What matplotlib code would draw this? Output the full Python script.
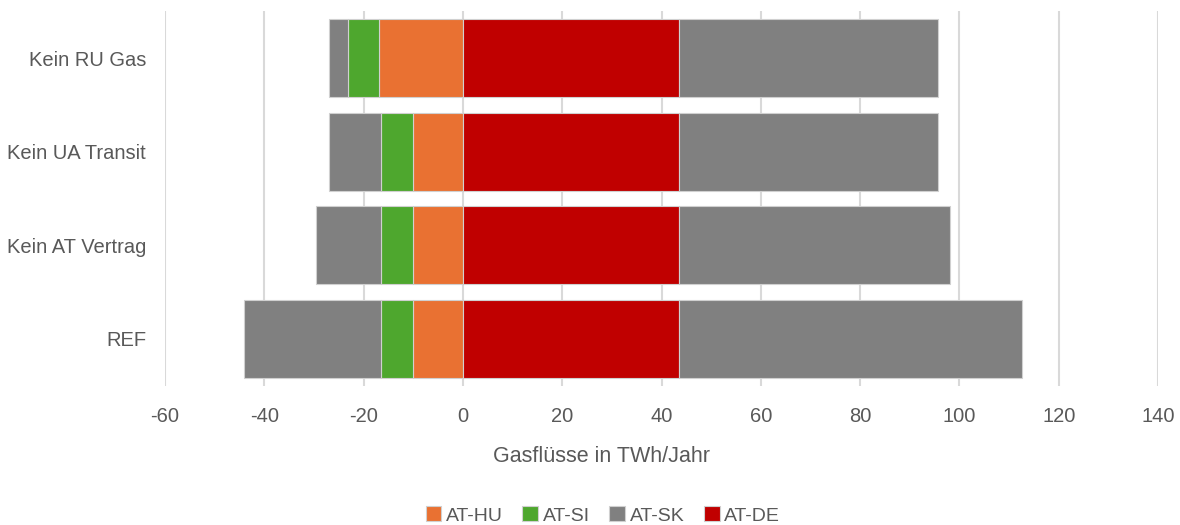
import matplotlib.pyplot as plt
import numpy as np

plt.rcParams['font.family'] = ['Liberation Sans', 'DejaVu Sans']

# scenarios, bottom to top
scenarios = ["REF", "Kein AT Vertrag", "Kein UA Transit", "Kein RU Gas"]

# flows in TWh/Jahr (negative = export side, positive = import side)
at_hu = [-10.1, -10.1, -10.1, -16.8]
at_si = [-6.4, -6.4, -6.4, -6.4]
at_sk_neg = [-27.6, -13.0, -10.5, -3.8]
at_de = [43.5, 43.5, 43.5, 43.5]
at_sk_pos = [69.2, 54.5, 52.1, 52.1]

xticks = [-60, -40, -20, 0, 20, 40, 60, 80, 100, 120, 140]

c_hu = "#e97132"
c_si = "#4ea72e"
c_sk = "#808080"
c_de = "#c00000"
txt = "#595959"

fig = plt.figure(figsize=(11.8, 5.25), dpi=100)
ax = fig.add_axes([0.1398, 0.2651, 0.8416, 0.7136])

y = np.arange(len(scenarios))
h = 0.83
ec = "#d0d0d0"
lw = 0.8

hu = np.array(at_hu)
si = np.array(at_si)
skn = np.array(at_sk_neg)
de = np.array(at_de)
skp = np.array(at_sk_pos)

ax.barh(y, hu, height=h, color=c_hu, edgecolor=ec, linewidth=lw, label="AT-HU", zorder=3)
ax.barh(y, si, left=hu, height=h, color=c_si, edgecolor=ec, linewidth=lw, label="AT-SI", zorder=3)
ax.barh(y, skn, left=hu + si, height=h, color=c_sk, edgecolor=ec, linewidth=lw, label="AT-SK", zorder=3)
ax.barh(y, de, height=h, color=c_de, edgecolor=ec, linewidth=lw, label="AT-DE", zorder=3)
ax.barh(y, skp, left=de, height=h, color=c_sk, edgecolor=ec, linewidth=lw, zorder=3)

ax.set_xlim(-60, 140)
ax.set_ylim(-0.5, len(scenarios) - 0.5)
ax.set_xticks(xticks)
ax.set_xticklabels([str(v) for v in xticks])
ax.set_yticks(y)
ax.set_yticklabels(scenarios)

ax.grid(axis="x", color="#d9d9d9", linewidth=1.5, zorder=0)
for s in ax.spines.values():
    s.set_visible(False)
ax.tick_params(axis="both", length=0, labelsize=14.5, colors=txt)
ax.tick_params(axis="x", pad=15)
ax.tick_params(axis="y", pad=13.5)

fig.text(0.510, 0.131, "Gasflüsse in TWh/Jahr", fontsize=15.5, color=txt,
         ha="center", va="center")

leg = fig.legend(handles=ax.get_legend_handles_labels()[0][:4],
                 labels=["AT-HU", "AT-SI", "AT-SK", "AT-DE"],
                 loc="center", bbox_to_anchor=(0.511, 0.018), ncol=4,
                 frameon=False, fontsize=14, handlelength=0.8, handleheight=0.8,
                 handletextpad=0.25, columnspacing=1.0)
for t in leg.get_texts():
    t.set_color(txt)

fig.savefig("out.png", dpi=100)
